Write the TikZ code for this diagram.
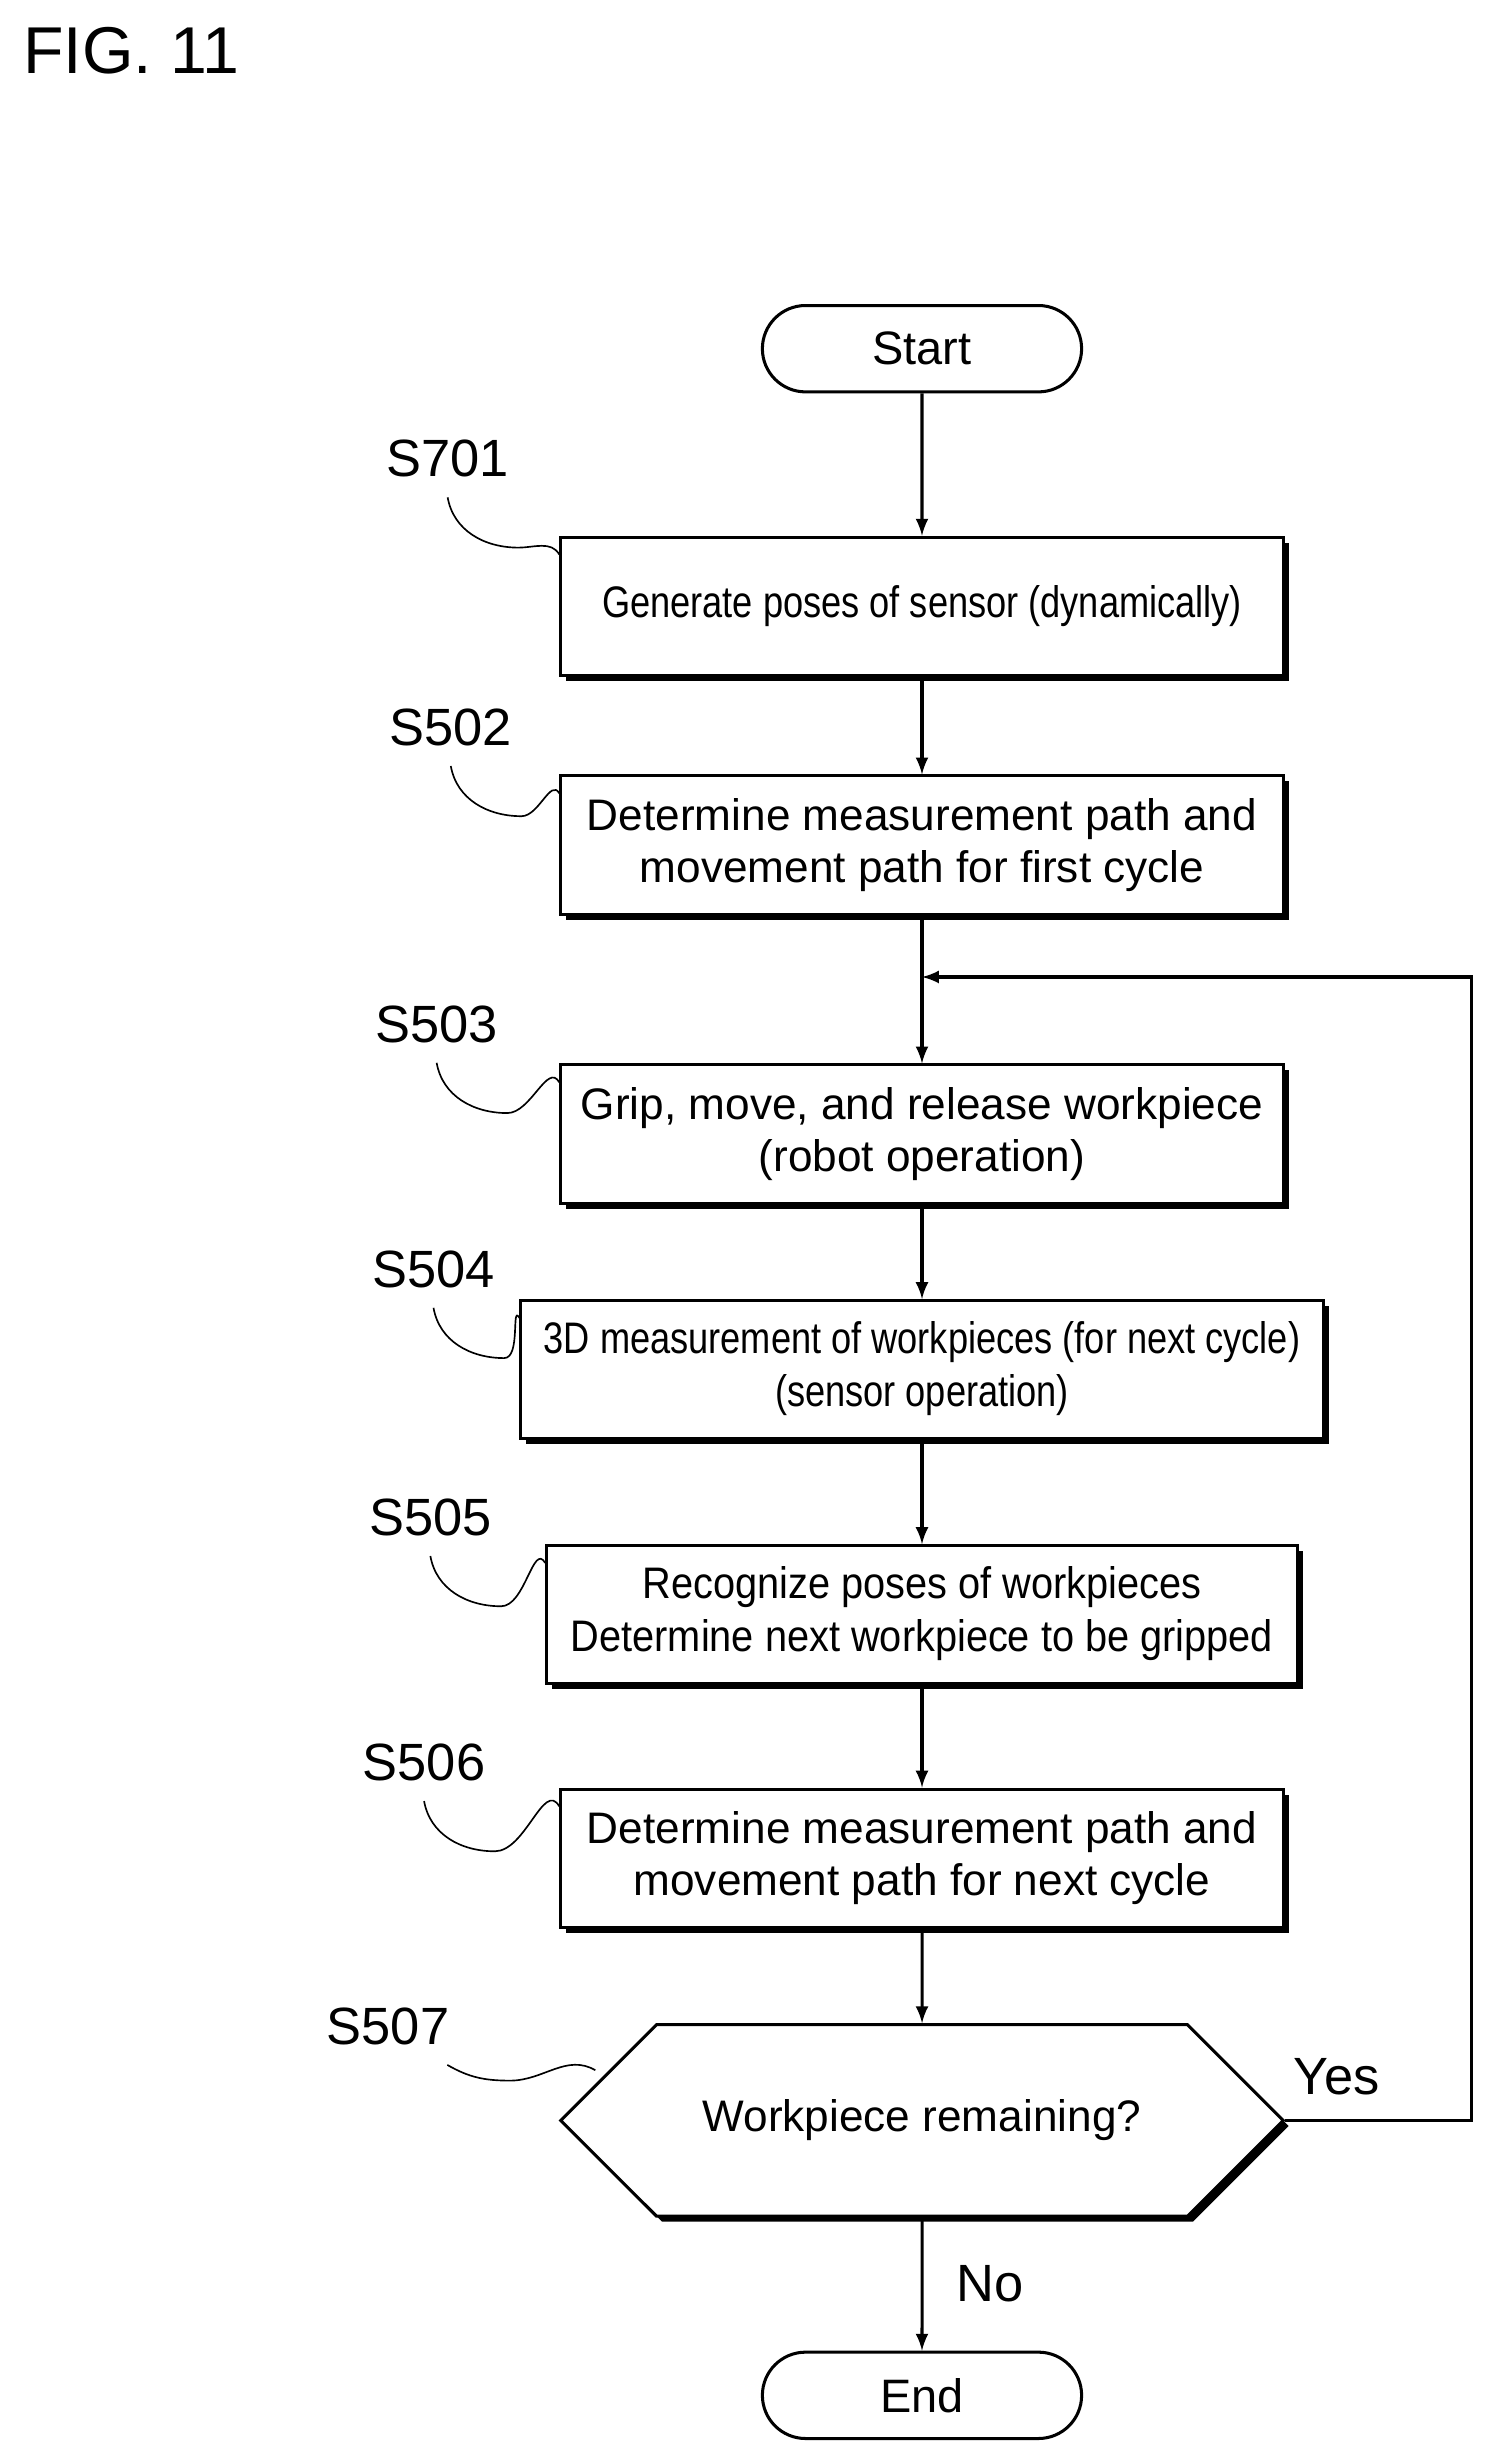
\documentclass[tikz,border=0pt]{standalone}
\usepackage{fontspec}
\setmainfont{Liberation Sans}
\usetikzlibrary{positioning,shapes.misc,shadows}

\begin{document}
\begin{tikzpicture}[x=0.02cm,y=-0.02cm,line width=1.1pt,
    proc/.style={draw,fill=white,minimum width=9.2cm,minimum height=1.76cm,align=center,
      font=\fontsize{16}{19}\selectfont,
      drop shadow={shadow xshift=0.07cm,shadow yshift=-0.07cm,fill=black,opacity=1}},
    term/.style={draw,rounded rectangle,minimum width=4.3cm,minimum height=1.1cm,
      font=\fontsize{17}{20}\selectfont},
    test/.style={draw,fill=white,chamfered rectangle,chamfered rectangle xsep=0.4cm,
      chamfered rectangle ysep=0.84cm,minimum width=9.2cm,minimum height=1.68cm,
      font=\fontsize{16}{19}\selectfont,
      drop shadow={shadow xshift=0.07cm,shadow yshift=-0.07cm,fill=black,opacity=1}},
    lbl/.style={font=\fontsize{19}{22}\selectfont},
    >=latex]
    \useasboundingbox (0,0) rectangle (945,1556);
    \node[anchor=west,font=\fontsize{24}{28}\selectfont] (fig) at (8,32) {FIG. 11};
    % flow
    \node[term] (start) at (587,222) {Start};
    \node[proc] (s701) at (587,386) {\scalebox{0.82}[1]{Generate poses of sensor (dynamically)}};
    \node[proc] (s502) at (587,538) {Determine measurement path and\\movement path for first cycle};
    \node[proc] (s503) at (587,722) {Grip, move, and release workpiece\\(robot operation)};
    \node[proc] (s504) at (587,872) {\scalebox{0.82}[1]{\begin{tabular}{c}3D measurement of workpieces (for next cycle)\\(sensor operation)\end{tabular}}};
    \node[proc] (s505) at (587,1028) {\scalebox{0.9}[1]{\begin{tabular}{c}Recognize poses of workpieces\\Determine next workpiece to be gripped\end{tabular}}};
    \node[proc] (s506) at (587,1183) {Determine measurement path and\\movement path for next cycle};
    \node[test] (s507) at (587,1350) {Workpiece remaining?};
    \node[term] (end) at (587,1525) {End};
    \coordinate (join) at (587,622);
    \coordinate (back) at (937,622);
    \draw[->] (start) -- (s701);
    \draw[->] (s701) -- (s502);
    \draw (s502) -- (join);
    \draw[->] (join) -- (s503);
    \draw[->] (s503) -- (s504);
    \draw[->] (s504) -- (s505);
    \draw[->] (s505) -- (s506);
    \draw[->] (s506) -- (s507);
    \draw[->] (s507) -- node[right=0.3cm,lbl] {No} (end);
    \draw[->] (s507.east) -| (back) -- (join);
    \node[lbl] (yes) at (851,1322) {Yes};
    % step labels
    \node[lbl] (l701) at (285,292) {S701};
    \node[lbl] (l502) at (287,463) {S502};
    \node[lbl] (l503) at (278,652) {S503};
    \node[lbl] (l504) at (276,808) {S504};
    \node[lbl] (l505) at (274,966) {S505};
    \node[lbl] (l506) at (270,1122) {S506};
    \node[lbl] (l507) at (247,1290) {S507};
    \foreach \s in {701,502,503,504,505,506}
      \draw[line width=0.6pt] (l\s.south) ++(0,6) to[out=-80,in=180] ++(45,32) to[out=0,in=120] ([yshift=-0.24cm]s\s.north west);
    \draw[line width=0.6pt] (l507.south east) ++(-8,6) to[out=-30,in=180] ++(40,10) to[out=0,in=150] (379,1318);
\end{tikzpicture}
\end{document}
